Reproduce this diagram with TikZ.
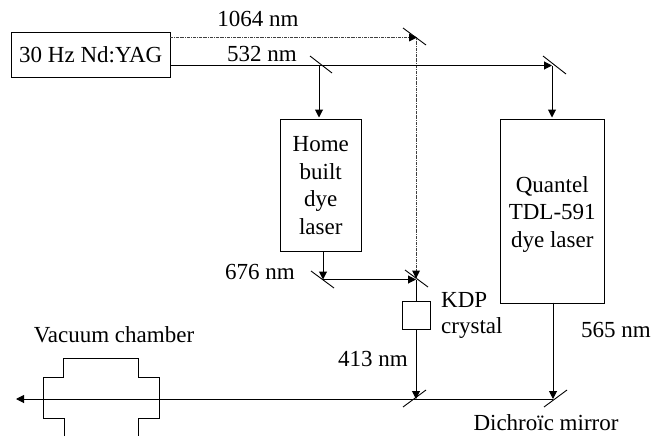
\documentclass[tikz,border=0pt]{standalone}
\usepackage{fontspec}
\setmainfont{Liberation Serif}
\usetikzlibrary{arrows.meta}
\tikzset{
  box/.style={draw=black,line width=1pt,inner sep=0pt,anchor=north west,align=center},
  lbl/.style={inner sep=0pt,font=\fontsize{23}{27.5}\selectfont},
  beam/.style={line width=1pt},
  beamarrow/.style={beam,-{Triangle[length=8pt,width=8pt]}},
  dotbeam/.style={line width=0.7pt,densely dash dot,black!75},
  mirror/.style={line width=0.9pt}
}
\begin{document}
\begin{tikzpicture}[x=1pt,y=-1pt]
\useasboundingbox (0,0) rectangle (663,436);
% boxes
\node[box,lbl,minimum width=159.5pt,minimum height=45pt] (yag) at (10.5,32) {30 Hz Nd:YAG};
\node[box,lbl,minimum width=81.5pt,minimum height=132pt] (home) at (279.5,119) {Home\\built\\dye\\laser};
\node[box,lbl,minimum width=103.5pt,minimum height=183.5pt] (quantel) at (500,119) {\rule{0pt}{21.5pt}Quantel\\TDL-591\\dye laser};
\node[box,minimum width=28.5pt,minimum height=28.5pt] (kdp) at (401.5,300.5) {};
% beam points
\coordinate (y1) at (170,37.5);
\coordinate (y2) at (170,65.5);
\coordinate (m1) at (416,37.5);
\coordinate (m2) at (319,65.5);
\coordinate (m3) at (552,65.5);
\coordinate (h1) at (319,119);
\coordinate (q1) at (552,119);
\coordinate (h2) at (323,251);
\coordinate (m4) at (323,279.5);
\coordinate (m5) at (416,279.5);
\coordinate (q2) at (553,302.5);
\coordinate (m6) at (553,399);
\coordinate (m7) at (416,399);
\coordinate (end) at (16,399);
% mirrors
\draw[mirror] (403,28) -- (426,45);
\draw[mirror] (310,56) -- (332,73);
\draw[mirror] (543,56) -- (566,74);
\draw[mirror] (311,271) -- (334,288);
\draw[mirror] (405,270) -- (428,287);
\draw[mirror] (403,407) -- (426,390);
\draw[mirror] (544,407) -- (567,390);
% 1064 beam
\draw[dotbeam] (y1) -- (m1) -- (m5);
\fill (m1) ++(-7,-4) -- ++(8,4) -- ++(-8,4) -- cycle;
% 532 beam
\draw[beamarrow] (y2) -- (m3);
\draw[beamarrow,shorten >=1.5pt] (m2) -- (h1);
\draw[beamarrow,shorten >=1.5pt] (m3) -- (q1);
% 676 beam
\draw[beamarrow] (h2) -- (m4);
\draw[beamarrow] (m4) -- (m5);
\fill (m5) ++(-4,-9) -- ++(8,0) -- ++(-4,8) -- cycle;
% 413 beam
\draw[beam] (m5) -- (kdp.north -| m5);
\draw[beamarrow] (kdp.south -| m7) -- (m7);
% 565 beam
\draw[beamarrow] (q2) -- (m6);
\draw[beamarrow] (m6) -- (end);
% vacuum chamber
\draw[line width=1pt] (64,436) -- (64,418.5) -- (43.5,418.5) -- (43.5,377.5) -- (63.5,377.5) -- (63.5,358) -- (138.5,358) -- (138.5,377.5) -- (159,377.5) -- (159,418.5) -- (138.5,418.5) -- (138.5,436);
% labels
\node[lbl] (l1064) at (258,19) {1064 nm};
\node[lbl] (l532) at (262,54) {532 nm};
\node[lbl] (l676) at (260,272) {676 nm};
\node[lbl] (l413) at (373,359) {413 nm};
\node[lbl,anchor=west] (lkdp) at (441,300) {KDP};
\node[lbl,anchor=west] (lcry) at (441,328) {crystal};
\node[lbl] (l565) at (616,330) {565 nm};
\node[lbl] (ldich) at (546,423) {Dichroïc mirror};
\node[lbl] (lvac) at (114,335) {Vacuum chamber};
\end{tikzpicture}
\end{document}
